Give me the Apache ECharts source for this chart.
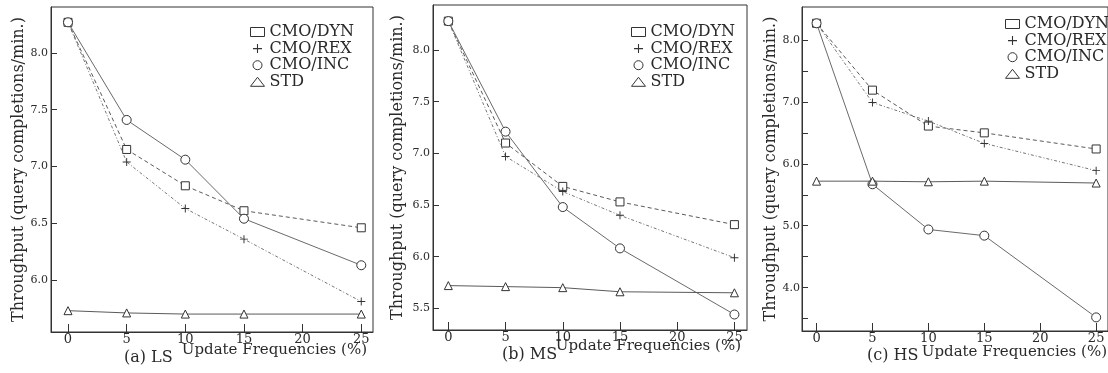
<!DOCTYPE html>
<html>
<head>
<meta charset="utf-8">
<script src="https://cdn.jsdelivr.net/npm/echarts@6/dist/echarts.min.js"></script>
<style>
  html, body { margin: 0; padding: 0; background: #fff; }
  #chart { width: 1108px; height: 373px; }
</style>
</head>
<body>
<div id="chart"></div>
<script>
// Throughput vs. update frequency for three workloads (LS, MS, HS)
const updateFreq = [0, 5, 10, 15, 25];
const xTickValues = [0, 5, 10, 15, 20, 25];
const seriesNames = ['CMO/DYN', 'CMO/REX', 'CMO/INC', 'STD'];

// (a) LS
const lsDyn = [8.27, 7.15, 6.83, 6.61, 6.46];
const lsRex = [8.27, 7.04, 6.63, 6.36, 5.81];
const lsInc = [8.27, 7.41, 7.06, 6.54, 6.13];
const lsStd = [5.73, 5.71, 5.70, 5.70, 5.70];
const lsYTicks = [6.0, 6.5, 7.0, 7.5, 8.0];

// (b) MS
const msDyn = [8.28, 7.10, 6.68, 6.53, 6.31];
const msRex = [8.28, 6.97, 6.63, 6.40, 5.99];
const msInc = [8.28, 7.21, 6.48, 6.08, 5.44];
const msStd = [5.72, 5.71, 5.70, 5.66, 5.65];
const msYTicks = [5.5, 6.0, 6.5, 7.0, 7.5, 8.0];

// (c) HS
const hsDyn = [8.27, 7.19, 6.61, 6.50, 6.24];
const hsRex = [8.27, 6.99, 6.69, 6.33, 5.89];
const hsInc = [8.27, 5.67, 4.94, 4.84, 3.52];
const hsStd = [5.72, 5.72, 5.71, 5.72, 5.69];
const hsYTicks = [3.5, 4.0, 4.5, 5.0, 5.5, 6.0, 6.5, 7.0, 7.5, 8.0];
const hsYLabels = [4.0, 5.0, 6.0, 7.0, 8.0];

const panelTitles = ['(a) LS', '(b) MS', '(c) HS'];
const xAxisTitle = 'Update Frequencies (%)';
const yAxisTitle = 'Throughput (query completions/min.)';

const SERIF = '"DejaVu Serif", "Liberation Serif", serif';
const INK = '#2a2a2a';
const LINE = '#5a5a5a';

const plusPath = 'path://M4.4,0H5.6V4.4H10V5.6H5.6V10H4.4V5.6H0V4.4H4.4Z';
const hollow = { color: '#fff', borderColor: '#333', borderWidth: 1 };

const markStyles = {
  'CMO/DYN': { symbol: 'rect', symbolSize: 8, itemStyle: hollow, lineStyle: { color: LINE, width: 1, type: [4, 3] } },
  'CMO/REX': { symbol: plusPath, symbolSize: 8, itemStyle: { color: '#333' }, lineStyle: { color: '#777', width: 1, type: [3, 2, 1, 2] } },
  'CMO/INC': { symbol: 'circle', symbolSize: 9, itemStyle: hollow, lineStyle: { color: '#6a6a6a', width: 1 } },
  'STD':     { symbol: 'triangle', symbolSize: 8, itemStyle: hollow, lineStyle: { color: LINE, width: 1 } }
};

const panels = [
  { values: [lsDyn, lsRex, lsInc, lsStd], yTicks: lsYTicks, yLabels: lsYTicks,
    grid: { left: 51, top: 7, width: 322, height: 325 }, x: [-1.45, 26.0], y: [5.542, 8.405],
    nameGap: 22, labelMargin: 3, legend: { left: 250, top: 24 },
    title: { x: 124, y: 358 }, xName: { x: 367, y: 350 } },
  { values: [msDyn, msRex, msInc, msStd], yTicks: msYTicks, yLabels: msYTicks,
    grid: { left: 433, top: 5, width: 314, height: 325 }, x: [-1.34, 26.1], y: [5.29, 8.436],
    nameGap: 27, labelMargin: 3, legend: { left: 631, top: 24 },
    title: { x: 502, y: 355 }, xName: { x: 741, y: 346 } },
  { values: [hsDyn, hsRex, hsInc, hsStd], yTicks: hsYTicks, yLabels: hsYLabels,
    grid: { left: 802, top: 7, width: 310, height: 324 }, x: [-1.3, 26.06], y: [3.30, 8.533],
    nameGap: 17, labelMargin: 2, legend: { left: 1005, top: 16 },
    title: { x: 867, y: 356 }, xName: { x: 1107, y: 352 } }
];

const grids = [], xAxes = [], yAxes = [], series = [], legends = [], graphics = [];

panels.forEach((p, i) => {
  grids.push(Object.assign({ show: true, borderColor: '#333', borderWidth: 1, backgroundColor: 'transparent' }, p.grid));

  xAxes.push({
    type: 'value', gridIndex: i, min: p.x[0], max: p.x[1],
    axisLine: { show: true, onZero: false, lineStyle: { color: '#333', width: 1 } },
    splitLine: { show: false },
    axisTick: { show: true, inside: true, length: 8, customValues: xTickValues, lineStyle: { color: '#333', width: 1 } },
    axisLabel: { customValues: xTickValues, margin: 1, color: INK, fontFamily: SERIF, fontSize: 13, formatter: v => String(v) }
  });

  yAxes.push({
    type: 'value', gridIndex: i, min: p.y[0], max: p.y[1],
    name: yAxisTitle, nameLocation: 'middle', nameGap: p.nameGap,
    nameTextStyle: { color: INK, fontFamily: SERIF, fontSize: 16 },
    axisLine: { show: true, onZero: false, lineStyle: { color: '#333', width: 1 } },
    splitLine: { show: false },
    axisTick: { show: true, inside: true, length: 6, customValues: p.yTicks, lineStyle: { color: '#333', width: 1 } },
    axisLabel: { customValues: p.yLabels, margin: p.labelMargin, color: INK, fontFamily: SERIF, fontSize: 11, formatter: v => v.toFixed(1) }
  });

  seriesNames.forEach((name, k) => {
    const st = markStyles[name];
    series.push({
      name, type: 'line', xAxisIndex: i, yAxisIndex: i,
      data: updateFreq.map((f, j) => [f, p.values[k][j]]),
      symbol: st.symbol, symbolSize: st.symbolSize, showAllSymbol: true,
      itemStyle: st.itemStyle, lineStyle: st.lineStyle,
      emphasis: { disabled: true }, z: 3 + k
    });
  });

  legends.push({
    orient: 'vertical', left: p.legend.left, top: p.legend.top,
    itemWidth: 14, itemHeight: 9, itemGap: 0.6, padding: 0,
    textStyle: { color: INK, fontFamily: SERIF, fontSize: 16, lineHeight: 15 },
    data: [
      { name: 'CMO/DYN', icon: 'rect', itemStyle: hollow },
      { name: 'CMO/REX', icon: plusPath, itemStyle: { color: '#333' } },
      { name: 'CMO/INC', icon: 'circle', itemStyle: hollow },
      { name: 'STD', icon: 'triangle', itemStyle: hollow }
    ]
  });

  graphics.push({
    type: 'text', x: p.title.x, y: p.title.y,
    style: { text: panelTitles[i], fill: INK, font: '16px ' + SERIF, align: 'left', verticalAlign: 'middle' }
  });
  graphics.push({
    type: 'text', x: p.xName.x, y: p.xName.y,
    style: { text: xAxisTitle, fill: INK, font: '15px ' + SERIF, align: 'right', verticalAlign: 'middle' }
  });
});

const chart = echarts.init(document.getElementById('chart'), null, { renderer: 'canvas' });
chart.setOption({
  backgroundColor: '#fff',
  animation: false,
  grid: grids,
  xAxis: xAxes,
  yAxis: yAxes,
  legend: legends,
  series: series,
  graphic: graphics
});
</script>
</body>
</html>
